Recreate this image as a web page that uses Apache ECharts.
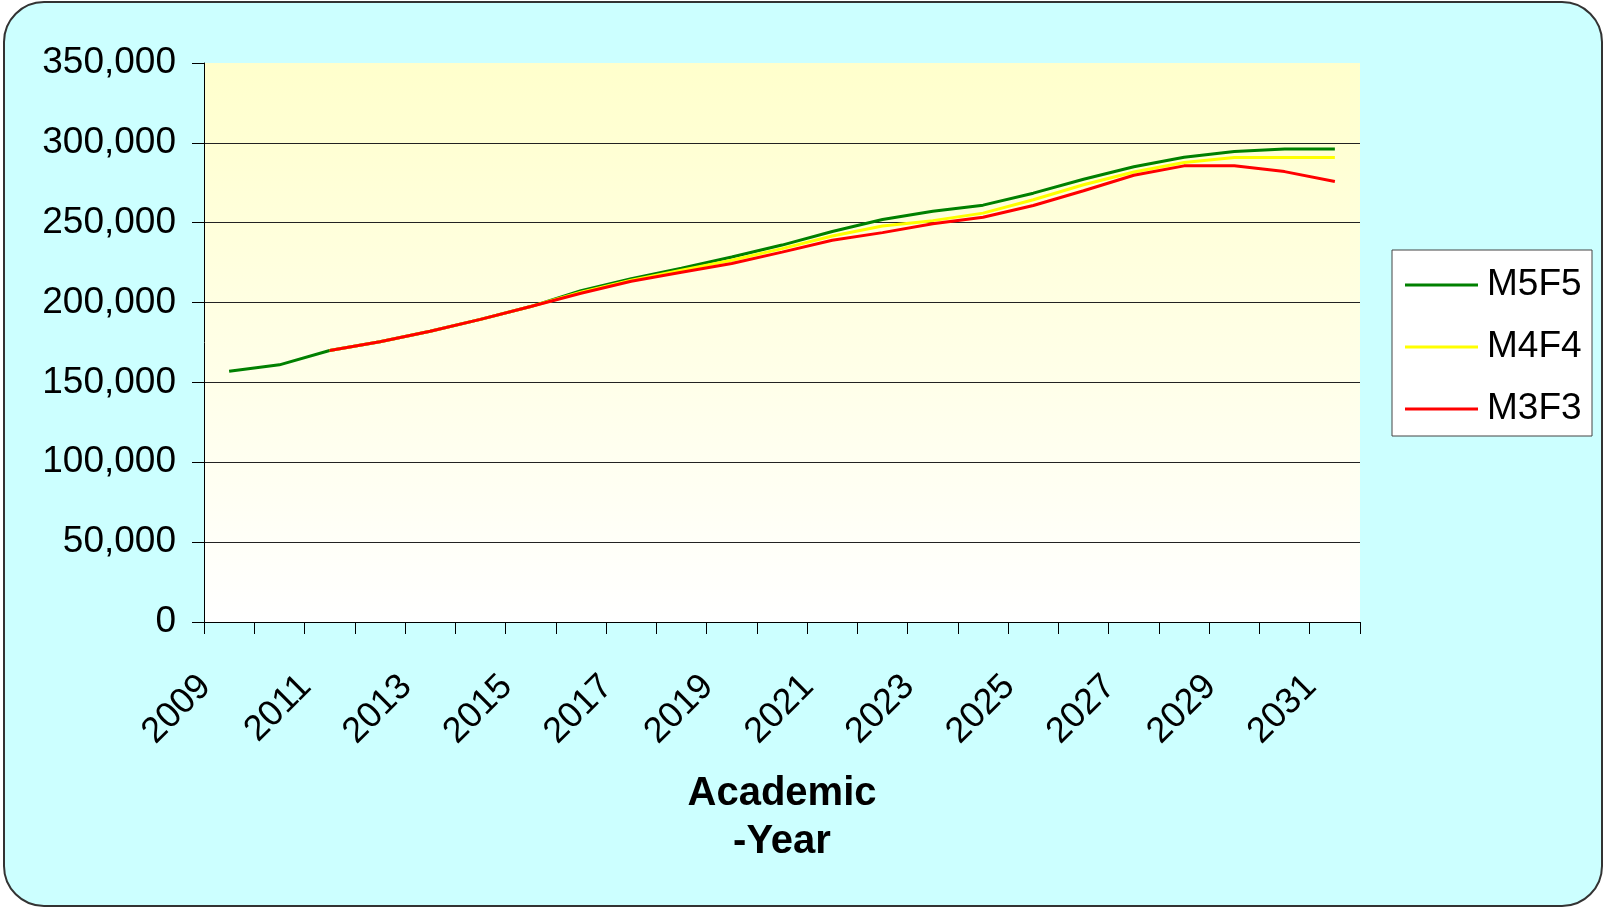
<!DOCTYPE html>
<html>
<head>
<meta charset="utf-8">
<script src="https://cdn.jsdelivr.net/npm/echarts@6/dist/echarts.min.js"></script>
<style>
  html, body { margin: 0; padding: 0; background: #fff; }
  #chart { width: 1605px; height: 908px; }
</style>
</head>
<body>
<div id="chart"></div>
<script>
const years = [
  '2009', '2010', '2011', '2012', '2013', '2014', '2015', '2016',
  '2017', '2018', '2019', '2020', '2021', '2022', '2023', '2024',
  '2025', '2026', '2027', '2028', '2029', '2030', '2031',
];
const m5f5 = [
  157000, 161000, 170000, 175500, 182000, 189500, 197500, 207500,
  215000, 221500, 228500, 236000, 244500, 252000, 257200, 261000,
  268500, 277200, 285000, 291000, 294600, 296200, 296200,
];
const m4f4 = [
  null, null, 170000, 175500, 182000, 189500, 197500, 206500,
  214000, 220300, 226500, 233800, 241700, 248000, 251300, 256000,
  264400, 273800, 281800, 287700, 290800, 290800, 290800,
];
const m3f3 = [
  null, null, 170000, 175500, 182000, 189500, 197500, 205800,
  213300, 219000, 224500, 231600, 239000, 243800, 249400, 253400,
  260800, 270000, 279700, 285600, 285600, 282000, 275800,
];
const seriesNames = ['M5F5', 'M4F4', 'M3F3'];
const seriesColors = ['#008000', '#FFFF00', '#FF0000'];

const font = '"Liberation Sans", Arial, sans-serif';

const chart = echarts.init(document.getElementById('chart'));

const makeLine = (name, data, color) => ({
  name: name,
  type: 'line',
  data: data,
  symbol: 'none',
  smooth: false,
  animation: false,
  itemStyle: { color: color },
  lineStyle: { color: color, width: 3 },
});

chart.setOption({
  animation: false,
  textStyle: { fontFamily: font, color: '#000' },
  graphic: [
    {
      type: 'rect',
      z: -10,
      shape: { x: 4, y: 2, width: 1598, height: 904, r: 40 },
      style: { fill: '#CCFFFF', stroke: '#333', lineWidth: 2 },
    },
    {
      type: 'rect',
      z: -10,
      shape: { x: 1392, y: 250, width: 200, height: 186 },
      style: { fill: '#fff', stroke: '#444', lineWidth: 1 },
    },
  ],
  grid: {
    left: 204,
    right: 245,
    top: 63,
    bottom: 286,
    show: true,
    borderWidth: 0,
    backgroundColor: new echarts.graphic.LinearGradient(0, 0, 0, 1, [
      { offset: 0, color: '#FFFFCC' },
      { offset: 1, color: '#FFFFFF' },
    ]),
  },
  legend: {
    orient: 'vertical',
    left: 1405,
    top: 265,
    padding: 0,
    icon: 'rect',
    itemWidth: 73,
    itemHeight: 3,
    itemGap: 22,
    data: seriesNames,
    textStyle: {
      fontFamily: font,
      fontSize: 37,
      color: '#000',
      lineHeight: 40,
      padding: [0, 0, 0, 4],
    },
  },
  xAxis: {
    type: 'category',
    data: years,
    boundaryGap: true,
    name: 'Academic\n-Year',
    nameLocation: 'middle',
    nameMoveOverlap: false,
    nameGap: 148,
    nameTextStyle: {
      fontFamily: font,
      fontSize: 40,
      fontWeight: 'bold',
      color: '#000',
      lineHeight: 48,
    },
    axisLine: { show: true, lineStyle: { color: '#000', width: 1 } },
    axisTick: {
      show: true,
      interval: 0,
      length: 12,
      lineStyle: { color: '#000', width: 1 },
    },
    axisLabel: {
      interval: 1,
      rotate: 45,
      margin: 35,
      padding: [0, 34, 0, 0],
      fontFamily: font,
      fontSize: 36,
      color: '#000',
    },
    splitLine: { show: false },
  },
  yAxis: {
    type: 'value',
    min: 0,
    max: 350000,
    interval: 50000,
    axisLine: { show: true, lineStyle: { color: '#000', width: 1 } },
    axisTick: {
      show: true,
      length: 12,
      lineStyle: { color: '#000', width: 1 },
    },
    axisLabel: {
      margin: 28,
      fontFamily: font,
      fontSize: 37,
      color: '#000',
      formatter: (v) => v.toLocaleString('en-US'),
    },
    splitLine: {
      show: true,
      showMaxLine: false,
      lineStyle: { color: '#222', width: 1 },
    },
  },
  series: [
    makeLine(seriesNames[0], m5f5, seriesColors[0]),
    makeLine(seriesNames[1], m4f4, seriesColors[1]),
    makeLine(seriesNames[2], m3f3, seriesColors[2]),
  ],
});
</script>
</body>
</html>
